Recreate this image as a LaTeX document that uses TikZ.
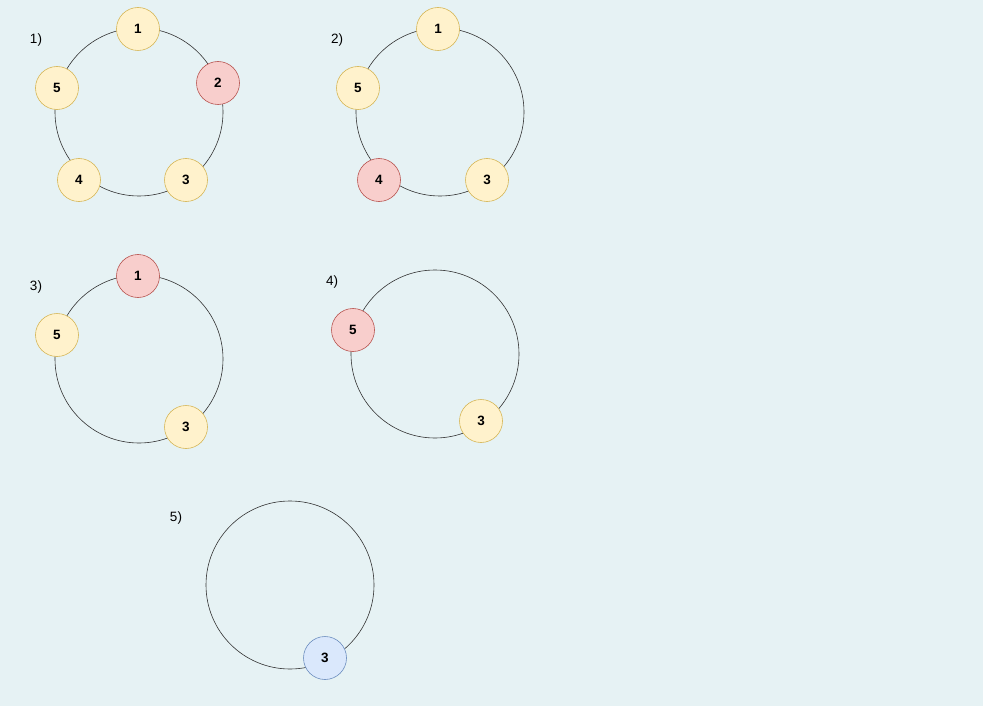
\documentclass[tikz,border=0pt]{standalone}
\usepackage{fontspec}
\setmainfont{Liberation Sans}
\definecolor{bgc}{RGB}{230,242,244}
\definecolor{yfill}{HTML}{FFF2CC}
\definecolor{ydraw}{HTML}{D6B656}
\definecolor{rfill}{HTML}{F8CECC}
\definecolor{rdraw}{HTML}{B85450}
\definecolor{bfill}{HTML}{DAE8FC}
\definecolor{bdraw}{HTML}{6C8EBF}
\tikzset{
  ring/.style={circle,draw=black!80,line width=0.6pt,minimum size=168pt,inner sep=0pt},
  ball/.style={circle,minimum size=43pt,inner sep=0pt,line width=0.6pt,font=\fontsize{13.5}{15}\selectfont\bfseries},
  yball/.style={ball,fill=yfill,draw=ydraw},
  rball/.style={ball,fill=rfill,draw=rdraw},
  bball/.style={ball,fill=bfill,draw=bdraw},
  lab/.style={font=\fontsize{13.5}{15}\selectfont,inner sep=0pt}
}
\begin{document}
\begin{tikzpicture}[x=1pt,y=-1pt]
\fill[bgc] (0,0) rectangle (983,706);
\useasboundingbox (0,0) rectangle (983,706);
% 1)
\node[ring] (r1) at (139,112) {};
\node[yball] (a1) at (138,29) {1};
\node[rball] (a2) at (218,83) {2};
\node[yball] (a3) at (186,180) {3};
\node[yball] (a4) at (79,180) {4};
\node[yball] (a5) at (57,88) {5};
\node[lab] (l1) at (36,40) {1)};
% 2)
\node[ring] (r2) at (440,112) {};
\node[yball] (b1) at (438,29) {1};
\node[yball] (b5) at (358,88) {5};
\node[rball] (b4) at (379,180) {4};
\node[yball] (b3) at (487,180) {3};
\node[lab] (l2) at (337,40) {2)};
% 3)
\node[ring] (r3) at (139,359) {};
\node[rball] (c1) at (138,276) {1};
\node[yball] (c5) at (57,335) {5};
\node[yball] (c3) at (186,427) {3};
\node[lab] (l3) at (36,287) {3)};
% 4)
\node[ring] (r4) at (435,354) {};
\node[rball] (d5) at (353,330) {5};
\node[yball] (d3) at (481,421) {3};
\node[lab] (l4) at (332,282) {4)};
% 5)
\node[ring] (r5) at (290,585) {};
\node[bball] (e3) at (325,658) {3};
\node[lab] (l5) at (176,518) {5)};
\end{tikzpicture}
\end{document}
